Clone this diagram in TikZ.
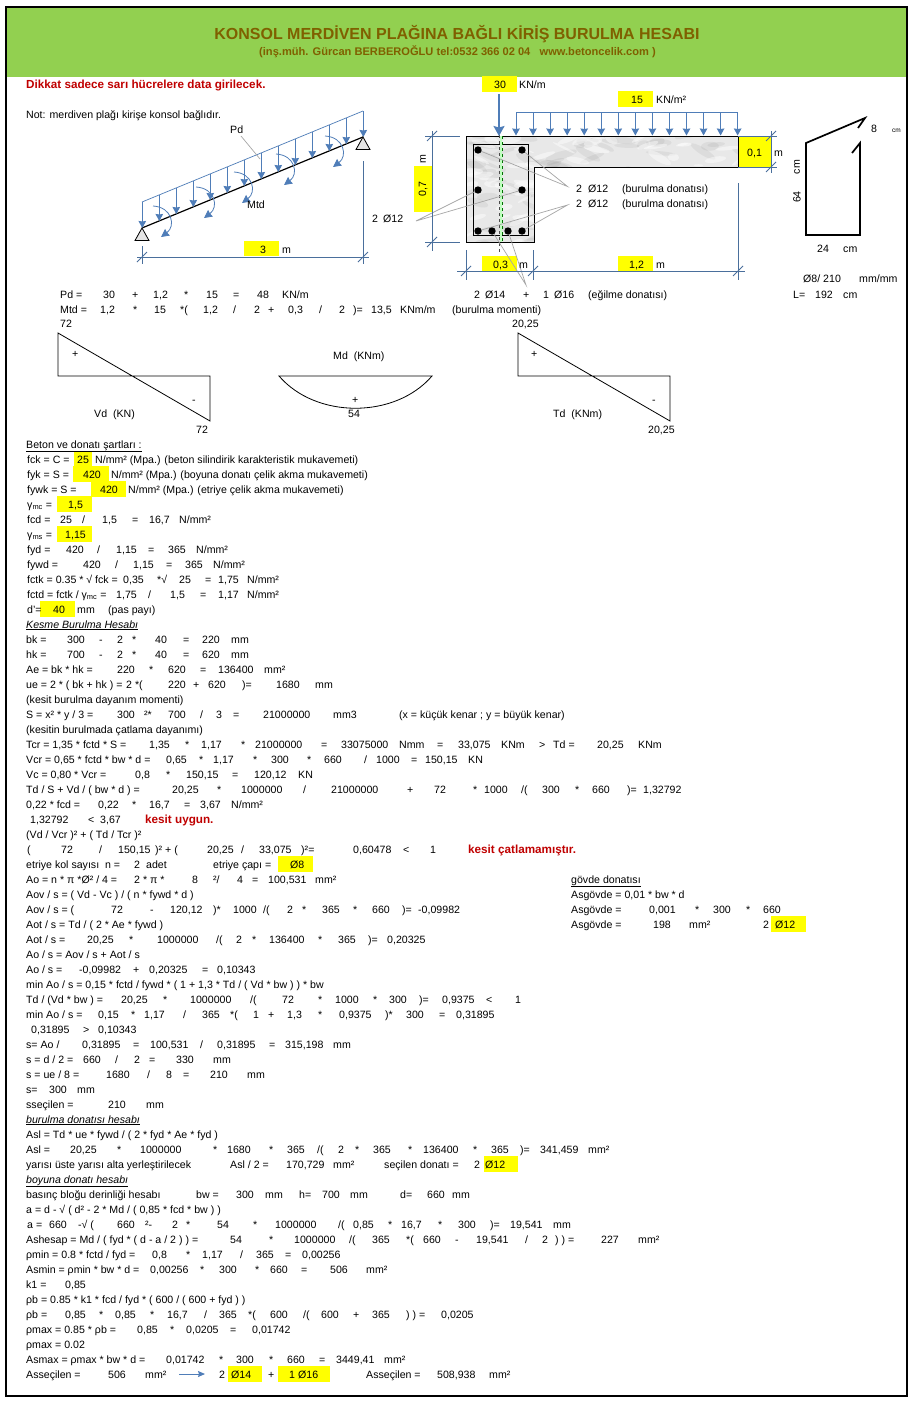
\documentclass[tikz,border=0pt]{standalone}
\usepackage{fontspec}
\setmainfont{Liberation Sans}
\usetikzlibrary{positioning, arrows.meta}

\definecolor{bandgreen}{HTML}{92D050}
\definecolor{titlebrown}{HTML}{7F6000}
\definecolor{loadblue}{HTML}{4F7DB8}
\definecolor{dimblue}{HTML}{4A6F9C}
\definecolor{warnred}{HTML}{C00000}
\definecolor{inputyellow}{HTML}{FFFF00}

\tikzset{
	cell/.style={anchor=base west,inner sep=0pt,font=\fontsize{10.6}{12}\selectfont},
	midcell/.style={cell,anchor=center},
	warncell/.style={cell,text=warnred,font=\fontsize{11.7}{13}\selectfont\bfseries},
	inputbox/.style={fill=inputyellow,draw=none},
	dimline/.style={draw=dimblue,line width=0.8pt},
	leader/.style={draw=black!35,line width=0.7pt},
	loadarrow/.style={draw=loadblue,line width=1pt,-{Stealth[length=7pt,width=7.5pt,inset=0.5pt]}},
	momentarrow/.style={draw=loadblue,line width=0.8pt,-{Stealth[length=8pt,width=8pt,inset=0.5pt]}},
	diagram/.style={draw=black,line width=0.8pt},
	rebar/.style={fill=black,draw=none},
}

\newcommand{\calcrow}[2]{%
	\foreach \px/\txt [count=\i] in {#2}
		\node [cell] (r#1-\i) at (\px,#1+4) {\txt};
}
\newcommand{\dimtick}[2]{\draw [dimline] (#1-5,#2+5) -- (#1+5,#2-5);}

\begin{document}
\begin{tikzpicture}[x=1pt,y=-1pt]
	\useasboundingbox (0,0) rectangle (913,1403);
	\fill [white] (0,0) rectangle (913,1403);
	\fill [bandgreen] (6,7) rectangle (906,77);
	\draw [black,line width=2.4pt] (6.2,7) rectangle (907,1396);

	\node [anchor=center,inner sep=0pt,text=titlebrown,font=\fontsize{16}{18}\selectfont\bfseries] (title) at (457,34) {KONSOL MERDİVEN PLAĞINA BAĞLI KİRİŞ BURULMA HESABI};
	\node [anchor=center,inner sep=0pt,text=titlebrown,font=\fontsize{11.1}{13}\selectfont\bfseries] (subtitle) at (457.5,52) {(inş.müh. Gürcan BERBEROĞLU tel:0532 366 02 04 \ \ www.betoncelik.com )};
	\node [warncell] (warning) at (26,88) {Dikkat sadece sarı hücrelere data girilecek.};

	% yellow input cells
	\foreach \xa/\xb/\ya/\yb in {244/279/241/256, 482/517/76/92, 618/653/91/107, 414/432/166/212, 738/772/136/167, 482/517/256/271, 618/653/256/271,
		74/92/451/467, 73/109/466/482, 91/126/481/497, 57/92/496/512, 57/92/526/542, 40/75/601/617, 278/313/856/872, 771/806/916/932, 484/518/1156/1172, 228/262/1366/1382, 278/330/1366/1382}
		\fill [inputbox] (\xa,\ya) rectangle (\xb,\yb);

	% stair flight
	\draw [draw=loadblue,line width=0.7pt] (142,202) -- (363,111);
	\draw [black,line width=1.2pt] (142,228) -- (363,137);
	\foreach \i in {0,...,13}
		\draw [loadarrow] ({142.3+17*\i},{202.3-7*\i}) -- ({142.3+17*\i},{228-7*\i});
	\foreach \sx/\sy in {153/206, 196/187, 234/172, 276/154, 325/136}
		\draw [momentarrow] (\sx,\sy) .. controls +(19,1) and +(15,-11) .. +(8,31);
	\foreach \tx/\ty in {142/228, 363/137}
		\draw [black,fill=black!10,line width=0.8pt] (\tx,\ty) -- (\tx-7,\ty+12.5) -- (\tx+7,\ty+12.5) -- cycle;
	\draw [leader] (241,136) -- (260,159);
	\draw [dimline] (137,257) -- (369,257);
	\draw [dimline] (142,246) -- (142,264);
	\draw [dimline] (363,161) -- (363,264);
	\dimtick{142}{257}
	\dimtick{363}{257}
	\calcrow{129}{230/{Pd}}
	\calcrow{204}{247/{Mtd}}
	\calcrow{218}{372/{2},383/{Ø12}}
	\calcrow{249}{260/{3},282/{m}}
	\calcrow{84}{494/{30},519/{KN/m}}
	\calcrow{99}{631/{15},656/{KN/m²}}
	\calcrow{114}{26/{Not: merdiven plağı kirişe konsol bağlıdır.}}

	% beam section
	\begin{scope}
		\clip (466,136) -- (738,136) -- (738,167) -- (534,167) -- (534,242) -- (466,242) -- cycle;
		\fill [black!9] (466,136) rectangle (738,242);
		\pgfmathsetseed{7}
		\foreach \i in {1,...,130}
			\fill [black!60,opacity=0.09,rotate around={{rnd*70-35}:({466+rnd*272},{136+rnd*106})}] ({466+rnd*272},{136+rnd*106}) ellipse ({6+rnd*12} and {1.5+rnd*3});
		\foreach \i in {1,...,110}
			\fill [white,opacity=0.45,rotate around={{rnd*70-35}:({466+rnd*272},{136+rnd*106})}] ({466+rnd*272},{136+rnd*106}) ellipse ({4+rnd*10} and {1+rnd*3});
	\end{scope}
	\draw [black,line width=1pt] (466,136) -- (738,136) -- (738,167) -- (534,167) -- (534,242) -- (466,242) -- cycle;
	\draw [black,line width=1pt] (473,144) rectangle (528,235);
	\draw [green!25,line width=1.4pt] (500.8,136) -- (500.8,242);
	\draw [black!70,dashed,line width=0.6pt] (499.7,135) -- (499.7,252);
	\draw [green!45!black,dashed,line width=0.7pt] (502,136) -- (502,242);

	\coordinate (tie top) at (567.5,186.5);
	\coordinate (tie bottom) at (567.5,205);
	\coordinate (web tie) at (416,221);
	\coordinate (flex tie) at (526,285);
	\foreach \bname/\bx/\by in {ba/478/150, bb/522/150, bc/478/190, bd/522/190, be/478/231, bf/492/231, bg/508/231, bh/522/231}
		\coordinate (\bname) at (\bx,\by);
	\draw [leader] (ba) -- (tie top) -- (bb);
	\draw [leader] (be) -- (tie bottom) -- (bh);
	\draw [leader] (bc) -- (web tie) -- (bd);
	\draw [leader] (bf) -- (flex tie) -- (bg);
	\foreach \bname in {ba,bb,bc,bd,be,bf,bg,bh}
		\fill [rebar] (\bname) circle (3.7);

	\draw [draw=loadblue,line width=0.7pt] (516,112) -- (738,112);
	\foreach \i in {0,...,13}
		\draw [loadarrow] ({516+17.05*\i},112) -- ({516+17.05*\i},135.5);
	\draw [draw=loadblue,line width=1.7pt,-{Stealth[length=10pt,width=11pt,inset=1.5pt]}] (499,94) -- (499,136);

	\draw [dimline] (432,131) -- (432,251);
	\draw [dimline] (425,136) -- (460,136);
	\draw [dimline] (425,242) -- (460,242);
	\dimtick{432}{136}
	\dimtick{432}{242}
	\draw [dimline] (771,131) -- (771,173);
	\draw [dimline] (738,136) -- (777,136);
	\draw [dimline] (738,167) -- (777,167);
	\dimtick{771}{136}
	\dimtick{771}{167}
	\draw [dimline] (457,271) -- (745,271);
	\draw [dimline] (466,250) -- (466,280);
	\draw [dimline] (533,250) -- (533,280);
	\draw [dimline] (738,183) -- (738,280);
	\dimtick{466}{271}
	\dimtick{533}{271}
	\dimtick{738}{271}
	\node [midcell,rotate=90] (sec h) at (423,189) {0,7};
	\node [midcell,rotate=90] (sec h unit) at (423,159) {m};
	\calcrow{152}{747/{0,1},774/{m}}
	\calcrow{264}{493/{0,3},519/{m},629/{1,2},656/{m}}
	\calcrow{188.5}{576/{2},588/{Ø12},622/{(burulma donatısı)}}
	\calcrow{203.5}{576/{2},588/{Ø12},622/{(burulma donatısı)}}

	% stirrup sketch
	\draw [black,line width=1.7pt,line join=miter] (858,128) -- (865,118) -- (806,143) -- (806,235) -- (860,235) -- (860,143) -- (852,153);
	\calcrow{128}{871/{8}}
	\node [cell,font=\fontsize{6.5}{8}\selectfont] (cm small) at (892,132) {cm};
	\node [midcell,rotate=90] (leg) at (797,197) {64};
	\node [midcell,rotate=90] (leg unit) at (797,167) {cm};
	\calcrow{248}{817/{24},843/{cm}}
	\calcrow{278}{803/{Ø8/ 210},859/{mm/mm}}

	% force diagrams
	\draw [diagram] (58,333) -- (58,376) -- (210,376) -- (210,421) -- cycle;
	\draw [diagram] (279,376) -- (432,376) .. controls (395,419) and (316,419) .. cycle;
	\draw [diagram] (518,333) -- (518,376) -- (670,376) -- (670,421) -- cycle;
	\calcrow{294}{60/{Pd =},103/{30},132/{+},153/{1,2},184/{*},206/{15},233/{=},257/{48},282/{KN/m},474/{2},485/{Ø14},523/{+},543/{1},554/{Ø16},588/{(eğilme donatısı)},793/{L=},815/{192},843/{cm}}
	\calcrow{309}{60/{Mtd =},100/{1,2},133/{*},154/{15},180/{*(},203/{1,2},233/{/},254/{2},268/{+},288/{0,3},319/{/},339/{2},353/{)=},371/{13,5},400/{KNm/m},452/{(burulma momenti)}}
	\calcrow{323}{60/{72},512/{20,25}}
	\calcrow{353}{72/{+},531/{+}}
	\calcrow{355}{333/{Md \ (KNm)}}
	\calcrow{399}{192/{-},352/{+},652/{-}}
	\calcrow{413}{94/{Vd \ (KN)},348/{54},553/{Td \ (KNm)}}
	\calcrow{429}{196/{72},648/{20,25}}

	% calculation sheet
	\calcrow{444}{26/{\underline{Beton ve donatı şartları :}}}
	\calcrow{459}{27/{fck = C =},77/{25},95/{N/mm² (Mpa.) (beton silindirik karakteristik mukavemeti)}}
	\calcrow{474}{27/{fyk = S =},83/{420},111/{N/mm² (Mpa.) (boyuna donatı çelik akma mukavemeti)}}
	\calcrow{489}{27/{fywk = S =},100/{420},128/{N/mm² (Mpa.) (etriye çelik akma mukavemeti)}}
	\calcrow{504}{27/{γ\textsubscript{mc} =},68/{1,5}}
	\calcrow{519}{27/{fcd =},60/{25},82/{/},102/{1,5},132/{=},149/{16,7},179/{N/mm²}}
	\calcrow{534}{27/{γ\textsubscript{ms} =},65/{1,15}}
	\calcrow{549}{27/{fyd =},66/{420},97/{/},116/{1,15},148/{=},168/{365},196/{N/mm²}}
	\calcrow{564}{27/{fywd =},83/{420},115/{/},133/{1,15},166/{=},185/{365},213/{N/mm²}}
	\calcrow{579}{27/{fctk = 0.35 * √ fck =},123/{0,35},157/{*√},179/{25},205/{=},218/{1,75},247/{N/mm²}}
	\calcrow{594}{27/{fctd = fctk / γ\textsubscript{mc} =},116/{1,75},148/{/},170/{1,5},200/{=},218/{1,17},247/{N/mm²}}
	\calcrow{609}{27/{d'=},53/{40},77/{mm},108/{(pas payı)}}
	\calcrow{624}{26/{\underline{\itshape Kesme Burulma Hesabı}}}
	\calcrow{639}{26/{bk =},67/{300},99/{-},117/{2},132/{*},155/{40},183/{=},202/{220},231/{mm}}
	\calcrow{654}{26/{hk =},67/{700},99/{-},117/{2},132/{*},155/{40},183/{=},202/{620},231/{mm}}
	\calcrow{669}{26/{Ae = bk * hk =},117/{220},149/{*},168/{620},200/{=},218/{136400},264/{mm²}}
	\calcrow{684}{26/{ue = 2 * ( bk + hk ) =},126/{2 *(},168/{220},193/{+},208/{620},242/{)=},276/{1680},315/{mm}}
	\calcrow{699}{26/{(kesit burulma dayanım momenti)}}
	\calcrow{714}{26/{S = x² * y / 3 =},117/{300},144/{²*},168/{700},200/{/},216/{3},233/{=},263/{21000000},333/{mm3},399/{(x = küçük kenar ; y = büyük kenar)}}
	\calcrow{729}{26/{(kesitin burulmada çatlama dayanımı)}}
	\calcrow{744}{26/{Tcr = 1,35 * fctd * S =},149/{1,35},185/{*},201/{1,17},241/{*},255/{21000000},321/{=},341/{33075000},399/{Nmm},437/{=},458/{33,075},501/{KNm},539/{>},553/{Td =},597/{20,25},638/{KNm}}
	\calcrow{759}{26/{Vcr = 0,65 * fctd * bw * d =},166/{0,65},199/{*},213/{1,17},253/{*},271/{300},307/{*},324/{660},364/{/},376/{1000},411/{=},425/{150,15},468/{KN}}
	\calcrow{774}{26/{Vc = 0,80 * Vcr =},135/{0,8},166/{*},186/{150,15},232/{=},254/{120,12},298/{KN}}
	\calcrow{789}{26/{Td / S + Vd / ( bw * d ) =},172/{20,25},217/{*},241/{1000000},303/{/},331/{21000000},407/{+},434/{72},473/{*},484/{1000},521/{/(},542/{300},575/{*},592/{660},627/{)=},643/{1,32792}}
	\calcrow{804}{26/{0,22 * fcd =},98/{0,22},132/{*},149/{16,7},184/{=},200/{3,67},231/{N/mm²}}
	\calcrow{819}{30/{1,32792},88/{<},100/{3,67}}
	\node [warncell] (fit ok) at (145,823) {kesit uygun.};
	\calcrow{834}{26/{(Vd / Vcr )² + ( Td / Tcr )²}}
	\calcrow{849}{27/{(},61/{72},99/{/},118/{150,15},155/{)² + (},207/{20,25},241/{/},259/{33,075},301/{)²=},353/{0,60478},403/{<},430/{1}}
	\node [warncell] (no crack) at (468,853) {kesit çatlamamıştır.};
	\calcrow{864}{26/{etriye kol sayısı \ n =},134/{2},146/{adet},213/{etriye çapı =},290/{Ø8}}
	\calcrow{879}{26/{Ao = n * π *Ø² / 4 =},134/{2 * π *},192/{8},213/{²/},237/{4},252/{=},268/{100,531},315/{mm²},571/{\underline{gövde donatısı}}}
	\calcrow{894}{26/{Aov / s = ( Vd - Vc ) / ( n * fywd * d )},571/{Asgövde = 0,01 * bw * d}}
	\calcrow{909}{26/{Aov / s = (},111/{72},150/{-},170/{120,12},213/{)*},233/{1000},263/{/(},287/{2},302/{*},322/{365},353/{*},372/{660},402/{)=},418/{-0,09982},571/{Asgövde =},649/{0,001},695/{*},713/{300},746/{*},763/{660}}
	\calcrow{924}{26/{Aot / s = Td / ( 2 * Ae * fywd )},571/{Asgövde =},653/{198},689/{mm²},763/{2},775/{Ø12}}
	\calcrow{939}{26/{Aot / s =},87/{20,25},129/{*},157/{1000000},216/{/(},236/{2},252/{*},269/{136400},318/{*},338/{365},368/{)=},387/{0,20325}}
	\calcrow{954}{26/{Ao / s = Aov / s + Aot / s}}
	\calcrow{969}{26/{Ao / s =},79/{-0,09982},133/{+},149/{0,20325},202/{=},217/{0,10343}}
	\calcrow{984}{26/{min Ao / s = 0,15 * fctd / fywd * ( 1 + 1,3 * Td / ( Vd * bw ) ) * bw}}
	\calcrow{999}{26/{Td / (Vd * bw ) =},121/{20,25},163/{*},190/{1000000},250/{/(},282/{72},318/{*},335/{1000},373/{*},389/{300},419/{)=},442/{0,9375},486/{<},515/{1}}
	\calcrow{1014}{26/{min Ao / s =},98/{0,15},131/{*},144/{1,17},183/{/},202/{365},230/{*(},253/{1},268/{+},287/{1,3},318/{*},339/{0,9375},385/{)*},406/{300},439/{=},456/{0,31895}}
	\calcrow{1029}{31/{0,31895},83/{>},98/{0,10343}}
	\calcrow{1044}{26/{s= Ao /},82/{0,31895},133/{=},150/{100,531},200/{/},217/{0,31895},269/{=},285/{315,198},333/{mm}}
	\calcrow{1059}{26/{s = d / 2 =},83/{660},115/{/},134/{2},149/{=},176/{330},213/{mm}}
	\calcrow{1074}{26/{s = ue / 8 =},106/{1680},147/{/},166/{8},183/{=},210/{210},247/{mm}}
	\calcrow{1089}{26/{s=},49/{300},77/{mm}}
	\calcrow{1104}{26/{sseçilen =},108/{210},146/{mm}}
	\calcrow{1119}{26/{\underline{\itshape burulma donatısı hesabı}}}
	\calcrow{1134}{26/{Asl = Td * ue * fywd / ( 2 * fyd * Ae * fyd )}}
	\calcrow{1149}{26/{Asl =},70/{20,25},117/{*},140/{1000000},213/{*},227/{1680},269/{*},287/{365},317/{/(},338/{2},355/{*},373/{365},408/{*},423/{136400},473/{*},491/{365},520/{)=},540/{341,459},588/{mm²}}
	\calcrow{1164}{26/{yarısı üste yarısı alta yerleştirilecek},230/{Asl / 2 =},286/{170,729},333/{mm²},384/{seçilen donatı =},474/{2},485/{Ø12}}
	\calcrow{1179}{26/{\underline{\itshape boyuna donatı hesabı}}}
	\calcrow{1194}{26/{basınç bloğu derinliği hesabı},196/{bw =},236/{300},265/{mm},299/{h=},322/{700},350/{mm},400/{d=},427/{660},452/{mm}}
	\calcrow{1209}{26/{a = d - √ ( d² - 2 * Md / ( 0,85 * fcd * bw ) )}}
	\calcrow{1224}{27/{a =},49/{660},78/{-√ (},117/{660},145/{²-},172/{2},186/{*},217/{54},253/{*},275/{1000000},338/{/(},353/{0,85},388/{*},401/{16,7},438/{*},458/{300},490/{)=},510/{19,541},553/{mm}}
	\calcrow{1239}{26/{Ashesap = Md / ( fyd * ( d - a / 2 ) ) =},230/{54},269/{*},294/{1000000},349/{/(},372/{365},406/{*(},423/{660},455/{-},476/{19,541},525/{/},542/{2},555/{) ) =},601/{227},638/{mm²}}
	\calcrow{1254}{26/{ρmin = 0.8 * fctd / fyd =},152/{0,8},186/{*},202/{1,17},240/{/},256/{365},285/{=},302/{0,00256}}
	\calcrow{1269}{26/{Asmin = ρmin * bw * d =},150/{0,00256},200/{*},219/{300},255/{*},270/{660},301/{=},330/{506},366/{mm²}}
	\calcrow{1284}{26/{k1 =},65/{0,85}}
	\calcrow{1299}{26/{ρb = 0.85 * k1 * fcd / fyd * ( 600 / ( 600 + fyd ) )}}
	\calcrow{1314}{26/{ρb =},65/{0,85},99/{*},115/{0,85},150/{*},167/{16,7},204/{/},219/{365},248/{*(},270/{600},303/{/(},321/{600},353/{+},372/{365},406/{) ) =},441/{0,0205}}
	\calcrow{1329}{26/{ρmax = 0.85 * ρb =},137/{0,85},170/{*},186/{0,0205},230/{=},252/{0,01742}}
	\calcrow{1344}{26/{ρmax = 0.02}}
	\calcrow{1359}{26/{Asmax = ρmax * bw * d =},166/{0,01742},219/{*},236/{300},269/{*},287/{660},319/{=},336/{3449,41},384/{mm²}}
	\calcrow{1374}{26/{Asseçilen =},108/{506},145/{mm²},219/{2},231/{Ø14},268/{+},289/{1},298/{Ø16},366/{Asseçilen =},437/{508,938},489/{mm²}}
	\coordinate (sel from) at (179,1374);
	\coordinate (sel to) at (205,1374);
	\draw [draw=loadblue,line width=1pt,-{Stealth[length=7pt,width=6pt,inset=1pt]}] (sel from) -- (sel to);
\end{tikzpicture}
\end{document}
